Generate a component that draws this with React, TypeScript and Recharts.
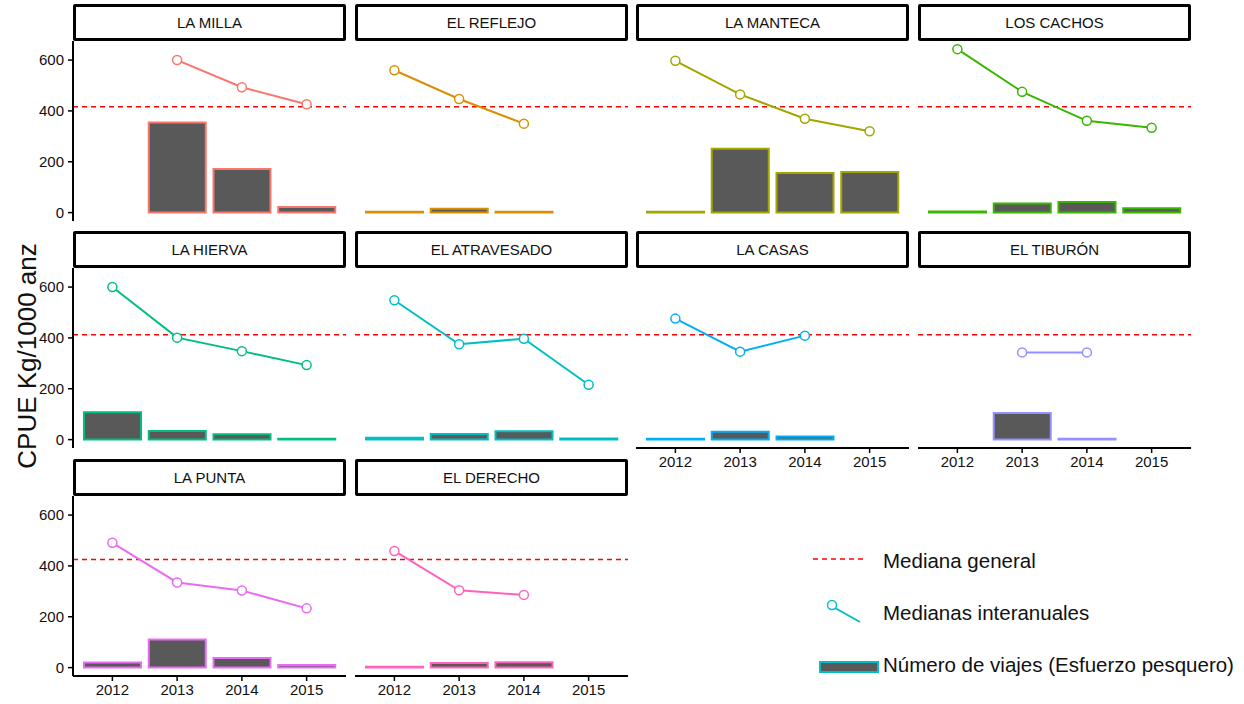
import React from 'react';
import { ComposedChart, Bar, Line, XAxis, YAxis, ReferenceLine } from 'recharts';

const years = ['2012', '2013', '2014', '2015'];

const sites = [
  'LA MILLA', 'EL REFLEJO', 'LA MANTECA', 'LOS CACHOS',
  'LA HIERVA', 'EL ATRAVESADO', 'LA CASAS', 'EL TIBURÓN',
  'LA PUNTA', 'EL DERECHO',
];

const siteColors = [
  '#F8766D', '#D89000', '#A3A500', '#39B600',
  '#00BF7D', '#00BFC4', '#00B0F6', '#9590FF',
  '#E76BF3', '#FF62BC',
];

// medianas interanuales (CPUE), one row per site, 2012..2015
const medianas: (number | null)[][] = [
  [null, 600, 493, 426],
  [560, 447, 350, null],
  [597, 465, 369, 320],
  [643, 475, 361, 334],
  [600, 401, 348, 293],
  [548, 375, 397, 216],
  [476, 346, 409, null],
  [null, 343, 343, null],
  [491, 335, 303, 233],
  [459, 304, 286, null],
];

// número de viajes (esfuerzo pesquero)
const viajes: (number | null)[][] = [
  [null, 354, 172, 22],
  [3, 15, 3, null],
  [3, 251, 156, 160],
  [4, 36, 42, 17],
  [108, 34, 21, 3],
  [7, 22, 33, 4],
  [3, 31, 12, null],
  [null, 105, 3, null],
  [20, 111, 38, 10],
  [3, 18, 21, null],
];

const medianaGeneral = [416, 416, 416, 416, 412, 412, 412, 412, 425, 425];

const yTicks = [0, 200, 400, 600];

const colLefts = [73, 355, 636, 918];
const rowTops = [4, 231, 459];
const PW = 273;
const PH = 180;
const SH = 37;
const YW = 45;
const XH = 30;
const FONT = '"Liberation Sans", Arial, sans-serif';

function Panel({ idx }: { idx: number }) {
  const row = Math.floor(idx / 4);
  const col = idx % 4;
  const left = colLefts[col];
  const top = rowTops[row];
  const color = siteColors[idx];
  const showX = row === 2 || (row === 1 && col >= 2);
  const showY = col === 0;
  const data = years.map((y, i) => ({ year: y, viajes: viajes[idx][i], mediana: medianas[idx][i] }));

  return (
    <>
      <div
        style={{
          position: 'absolute', left, top, width: PW, height: SH,
          border: '3px solid #000', boxSizing: 'border-box', borderRadius: 2,
          display: 'flex', alignItems: 'center', justifyContent: 'center',
          fontSize: 15, color: '#111', background: '#fff',
        }}
      >
        {sites[idx]}
      </div>
      <div style={{ position: 'absolute', left: left - YW, top: top + SH }}>
        <ComposedChart width={YW + PW} height={PH + XH} data={data} margin={{ top: 0, right: 0, bottom: 0, left: 0 }}>
          <XAxis
            dataKey="year"
            height={XH}
            padding={{ left: 7, right: 7 }}
            axisLine={showX ? { stroke: '#000', strokeWidth: 2 } : false}
            tickLine={showX ? { stroke: '#000', strokeWidth: 1.5 } : false}
            tick={showX ? { fontSize: 15, fill: '#111' } : false}
            tickSize={5}
            tickMargin={3}
            interval={0}
          />
          <YAxis
            width={YW}
            domain={[-33, 675]}
            ticks={yTicks}
            allowDataOverflow
            axisLine={showY ? { stroke: '#000', strokeWidth: 2 } : false}
            tickLine={showY ? { stroke: '#000', strokeWidth: 1.5 } : false}
            tick={showY ? { fontSize: 15, fill: '#111' } : false}
            tickSize={5}
            tickMargin={4}
          />
          <ReferenceLine y={medianaGeneral[idx]} stroke="#ff0000" strokeDasharray="5 4" strokeWidth={1.5} />
          <Bar dataKey="viajes" fill="#595959" stroke={color} strokeWidth={2} barSize={57} isAnimationActive={false} />
          <Line
            dataKey="mediana"
            stroke={color}
            strokeWidth={2}
            dot={{ r: 4.5, fill: '#fff', stroke: color, strokeWidth: 1.5 }}
            activeDot={false}
            connectNulls={false}
            isAnimationActive={false}
          />
        </ComposedChart>
      </div>
    </>
  );
}

export default function App() {
  return (
    <div style={{ position: 'absolute', left: 0, top: 0, width: 1244, height: 704, background: '#fff', fontFamily: FONT, overflow: 'hidden' }}>
      {sites.map((_, i) => (
        <Panel key={i} idx={i} />
      ))}
      <svg width={1244} height={704} style={{ position: 'absolute', left: 0, top: 0, pointerEvents: 'none' }}>
        <text x={27} y={356} transform="rotate(-90 27 356)" textAnchor="middle" dominantBaseline="central" fontSize={26} fill="#111">
          CPUE Kg/1000 anz
        </text>
        <line x1={813} y1={559} x2={863} y2={559} stroke="#ff0000" strokeWidth={1.5} strokeDasharray="5 4" />
        <text x={883} y={560} dominantBaseline="central" fontSize={20.5} fill="#111">Mediana general</text>
        <line x1={835} y1={608} x2={860} y2={622} stroke="#00BFC4" strokeWidth={2} />
        <circle cx={832} cy={605} r={4.5} fill="#fff" stroke="#00BFC4" strokeWidth={1.5} />
        <text x={883} y={612} dominantBaseline="central" fontSize={20.5} fill="#111">Medianas interanuales</text>
        <rect x={820} y={662} width={58} height={10} fill="#595959" stroke="#00BFC4" strokeWidth={2} />
        <text x={883} y={664} dominantBaseline="central" fontSize={20.5} fill="#111">Número de viajes (Esfuerzo pesquero)</text>
      </svg>
    </div>
  );
}
